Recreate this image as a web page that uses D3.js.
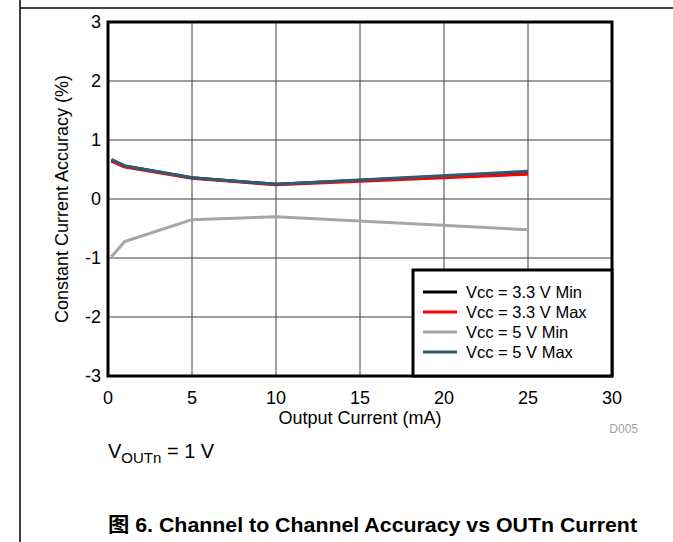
<!DOCTYPE html>
<html>
<head>
<meta charset="utf-8">
<script src="https://cdn.jsdelivr.net/npm/d3@7"></script>
<style>
  body { margin: 0; background: #fff; }
  svg { display: block; font-family: "Liberation Sans", Arial, sans-serif; }
</style>
</head>
<body>
<div id="chart"></div>
<script>
  // data
  const current = [0.2, 1, 5, 10, 25];
  const vcc33Min = [0.66, 0.56, 0.36, 0.25, 0.45];
  const vcc33Max = [0.64, 0.54, 0.35, 0.24, 0.42];
  const vcc5Min = [-0.98, -0.72, -0.35, -0.30, -0.52];
  const vcc5Max = [0.67, 0.56, 0.36, 0.25, 0.47];
  const seriesNames = ["Vcc = 3.3 V Min", "Vcc = 3.3 V Max", "Vcc = 5 V Min", "Vcc = 5 V Max"];
  const seriesColors = ["#000000", "#ff0000", "#a6a6a6", "#2e5b73"];
  const xTicks = [0, 5, 10, 15, 20, 25, 30];
  const yTicks = [-3, -2, -1, 0, 1, 2, 3];

  const width = 673;
  const height = 542;
  const margin = { top: 22, right: 61, bottom: 166, left: 108 };

  const svg = d3.select("#chart")
    .append("svg")
    .attr("width", width)
    .attr("height", height);

  // page frame lines
  svg.append("line")
    .attr("x1", 20).attr("x2", 20).attr("y1", 0).attr("y2", height)
    .attr("stroke", "#000").attr("stroke-width", 1.5);
  svg.append("line")
    .attr("x1", 20).attr("x2", width).attr("y1", 8).attr("y2", 8)
    .attr("stroke", "#000").attr("stroke-width", 1.5);

  const x = d3.scaleLinear()
    .domain([0, 30])
    .range([margin.left, width - margin.right]);

  const y = d3.scaleLinear()
    .domain([-3, 3])
    .range([height - margin.bottom, margin.top]);

  // grid
  svg.append("g")
    .selectAll("line")
    .data(xTicks.slice(1, -1))
    .join("line")
    .attr("x1", d => x(d)).attr("x2", d => x(d))
    .attr("y1", y(3)).attr("y2", y(-3))
    .attr("stroke", "#404040").attr("stroke-width", 1);

  svg.append("g")
    .selectAll("line")
    .data(yTicks.slice(1, -1))
    .join("line")
    .attr("x1", x(0)).attr("x2", x(30))
    .attr("y1", d => y(d)).attr("y2", d => y(d))
    .attr("stroke", "#404040").attr("stroke-width", 1);

  // series
  const allSeries = [vcc33Min, vcc33Max, vcc5Min, vcc5Max];
  const line = d3.line()
    .x((d, i) => x(current[i]))
    .y(d => y(d));

  svg.append("g")
    .selectAll("path")
    .data(allSeries)
    .join("path")
    .attr("d", d => line(d))
    .attr("fill", "none")
    .attr("stroke", (d, i) => seriesColors[i])
    .attr("stroke-width", 3)
    .attr("stroke-linejoin", "round");

  // axes labels
  svg.append("g")
    .selectAll("text")
    .data(xTicks)
    .join("text")
    .attr("x", d => x(d))
    .attr("y", y(-3) + 28)
    .attr("text-anchor", "middle")
    .style("font-size", "18px")
    .text(d => d);

  svg.append("g")
    .selectAll("text")
    .data(yTicks)
    .join("text")
    .attr("x", x(0) - 7)
    .attr("y", d => y(d) + 6)
    .attr("text-anchor", "end")
    .style("font-size", "18px")
    .text(d => d);

  svg.append("text")
    .attr("x", (x(0) + x(30)) / 2)
    .attr("y", y(-3) + 48)
    .attr("text-anchor", "middle")
    .style("font-size", "18px")
    .text("Output Current (mA)");

  svg.append("text")
    .attr("transform", `translate(68,${y(0)}) rotate(-90)`)
    .attr("text-anchor", "middle")
    .style("font-size", "18px")
    .text("Constant Current Accuracy (%)");

  svg.append("text")
    .attr("x", 638)
    .attr("y", y(-3) + 57)
    .attr("text-anchor", "end")
    .style("font-size", "12px")
    .attr("fill", "#a0a0a0")
    .text("D005");

  // plot border
  svg.append("rect")
    .attr("x", x(0)).attr("y", y(3))
    .attr("width", x(30) - x(0)).attr("height", y(-3) - y(3))
    .attr("fill", "none").attr("stroke", "#000").attr("stroke-width", 3);

  // legend
  const lg = svg.append("g");
  lg.append("rect")
    .attr("x", 413).attr("y", 270)
    .attr("width", x(30) - 413).attr("height", y(-3) - 270)
    .attr("fill", "#fff").attr("stroke", "#000").attr("stroke-width", 3);
  const rows = lg.selectAll("g")
    .data(seriesNames)
    .join("g")
    .attr("transform", (d, i) => `translate(423,${292 + i * 20})`);
  rows.append("line")
    .attr("x1", 0).attr("x2", 34)
    .attr("stroke", (d, i) => seriesColors[i])
    .attr("stroke-width", 3);
  rows.append("text")
    .attr("x", 43).attr("y", 6)
    .style("font-size", "16.5px")
    .text(d => d);

  // annotation
  const note = svg.append("text")
    .attr("x", 108).attr("y", 458)
    .style("font-size", "20px");
  note.append("tspan").text("V");
  note.append("tspan").attr("dy", 5).style("font-size", "15px").text("OUTn");
  note.append("tspan").attr("dy", -5).text(" = 1 V");

  // caption
  svg.append("text")
    .attr("x", 108).attr("y", 532)
    .attr("textLength", 529)
    .attr("lengthAdjust", "spacingAndGlyphs")
    .style("font-size", "20px")
    .style("font-weight", "bold")
    .style("font-family", "'Liberation Sans', 'Noto Sans CJK SC', sans-serif")
    .text("图 6. Channel to Channel Accuracy vs OUTn Current");
</script>
</body>
</html>
